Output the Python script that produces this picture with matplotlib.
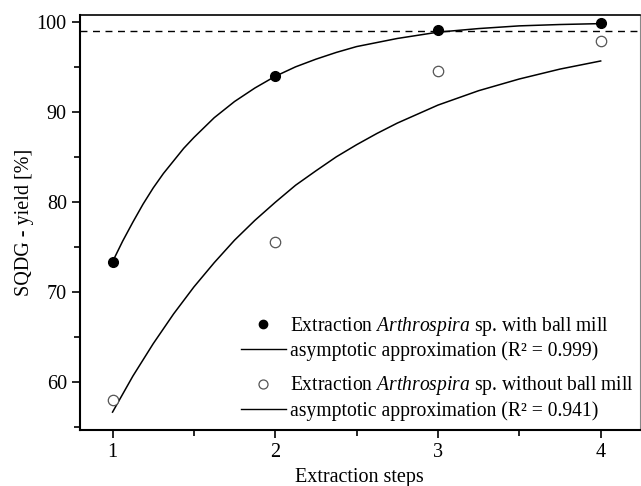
import numpy as np
import matplotlib
matplotlib.use("Agg")
import matplotlib.pyplot as plt
from matplotlib.lines import Line2D
from matplotlib.ticker import MultipleLocator

plt.rcParams['font.family'] = ['Liberation Serif', 'DejaVu Serif']
plt.rcParams['mathtext.fontset'] = 'custom'
plt.rcParams['mathtext.it'] = 'Liberation Serif:italic'
plt.rcParams['mathtext.rm'] = 'Liberation Serif'

# measured yields
steps = [1, 2, 3, 4]
yield_ball = [73.4, 94.0, 99.1, 99.9]
yield_noball = [58.0, 75.6, 94.6, 97.9]

# asymptotic fit curves
fit_x1 = [1.0, 1.0625, 1.125, 1.1875, 1.25, 1.3125, 1.375, 1.4375, 1.5, 1.625,
          1.75, 1.875, 2.0, 2.125, 2.25, 2.375, 2.5, 2.75, 3.0, 3.25, 3.5,
          3.75, 4.0]
fit_y1 = [73.4, 75.7, 77.8, 79.8, 81.6, 83.2, 84.6, 86.0, 87.2, 89.4,
          91.2, 92.7, 94.0, 95.05, 95.9, 96.65, 97.3, 98.2, 98.9, 99.3, 99.6,
          99.75, 99.85]
fit_x2 = [1.0, 1.125, 1.25, 1.375, 1.5, 1.625, 1.75, 1.875, 2.0, 2.125, 2.25,
          2.375, 2.5, 2.625, 2.75, 3.0, 3.25, 3.5, 3.75, 4.0]
fit_y2 = [56.7, 60.7, 64.3, 67.6, 70.6, 73.3, 75.8, 78.0, 80.0, 81.9, 83.5,
          85.05, 86.4, 87.65, 88.8, 90.8, 92.4, 93.7, 94.8, 95.7]

threshold = 99.0

FS = 14.5
LFS = 14.1

fig = plt.figure(figsize=(6.41, 4.86), dpi=100)
ax = fig.add_axes([0.1248, 0.115, 0.8732, 0.854])

ax.axhline(threshold, color='black', lw=1.0, ls=(0, (5, 4)))
ax.plot(fit_x1, fit_y1, color='black', lw=1.1, solid_joinstyle='round')
ax.plot(fit_x2, fit_y2, color='black', lw=1.1, solid_joinstyle='round')
ax.plot(steps, yield_ball, 'o', ms=7, mfc='black', mec='black', zorder=3)
ax.plot(steps, yield_noball, 'o', ms=7.5, mfc='white', mec='#555555', mew=0.9, zorder=3)

ax.set_xlim(0.8, 4.24)
ax.set_ylim(54.7, 100.8)
ax.xaxis.set_major_locator(MultipleLocator(1))
ax.xaxis.set_minor_locator(MultipleLocator(0.5))
ax.yaxis.set_major_locator(MultipleLocator(10))
ax.yaxis.set_minor_locator(MultipleLocator(5))
ax.tick_params(which='both', direction='out', top=False, right=False,
               labelsize=FS, width=1.2)
ax.tick_params(which='major', length=6)
ax.tick_params(which='minor', length=4)

for s in ['left', 'bottom']:
    ax.spines[s].set_linewidth(1.5)
ax.spines['top'].set_linewidth(1.2)
ax.spines['right'].set_linewidth(0.8)
ax.spines['right'].set_color('#888888')

ax.set_xlabel('Extraction steps', fontsize=FS, labelpad=4)
ax.set_ylabel('SQDG - yield [%]', fontsize=FS, labelpad=2)

h1 = [Line2D([], [], ls='none', marker='o', ms=6, mfc='black', mec='black'),
      Line2D([], [], color='black', lw=1.0)]
l1 = ['Extraction $\\mathit{Arthrospira}$ sp. with ball mill',
      'asymptotic approximation (R² = 0.999)']
h2 = [Line2D([], [], ls='none', marker='o', ms=6.5, mfc='white', mec='#555555', mew=0.9),
      Line2D([], [], color='black', lw=1.0)]
l2 = ['Extraction $\\mathit{Arthrospira}$ sp. without ball mill',
      'asymptotic approximation (R² = 0.941)']

kw = dict(frameon=False, fontsize=LFS, handlelength=2.3, handletextpad=0.2,
          labelspacing=0.18, borderpad=0, borderaxespad=0, loc='upper left')
leg1 = ax.legend(h1, l1, bbox_to_anchor=(0.2875, 0.278), **kw)
ax.add_artist(leg1)
ax.legend(h2, l2, bbox_to_anchor=(0.2875, 0.134), **kw)

fig.savefig('out.png', dpi=100)
